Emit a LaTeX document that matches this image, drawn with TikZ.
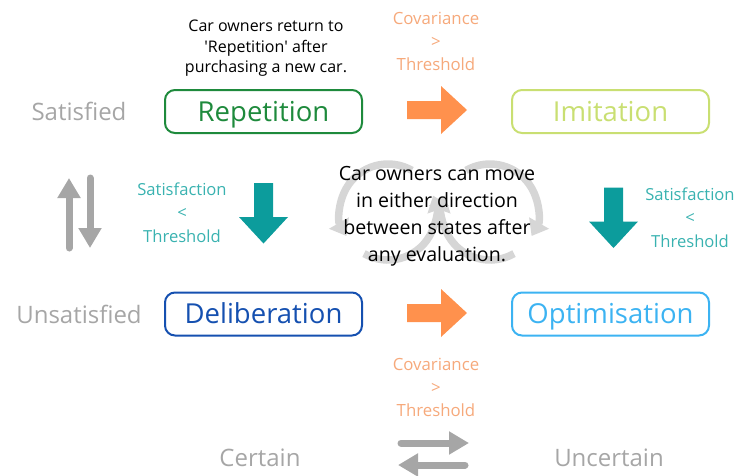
\documentclass[tikz,border=0pt]{standalone}
\usepackage{fontspec}
\setmainfont{Open Sans}
\usetikzlibrary{arrows.meta}

\definecolor{repgreen}{HTML}{1E8A3C}
\definecolor{imigreen}{HTML}{C9DF72}
\definecolor{delblue}{HTML}{1550B0}
\definecolor{optblue}{HTML}{3CB3F2}
\definecolor{orangefill}{HTML}{FF914D}
\definecolor{orangetext}{HTML}{F6A97B}
\definecolor{tealfill}{HTML}{0C9C9C}
\definecolor{tealtext}{HTML}{39B2B0}
\definecolor{greytone}{HTML}{A6A6A6}
\definecolor{cyclegrey}{HTML}{D6D6D6}

\tikzset{
  statebox/.style={draw, line width=2pt, rounded corners=10pt, minimum width=197pt,
    minimum height=43pt, inner sep=0pt, text height=19.6pt, text depth=0pt,
    font=\fontsize{27.5}{32}\selectfont},
  sidelabel/.style={text=greytone, text height=17pt, text depth=0pt,
    font=\fontsize{24}{28}\selectfont},
  covlabel/.style={text=orangetext, align=center, font=\fontsize{16.8}{23}\selectfont},
  satlabel/.style={text=tealtext, align=center, font=\fontsize{16.6}{23.5}\selectfont},
  notelabel/.style={align=center, font=\fontsize{16}{20.5}\selectfont},
  centrelabel/.style={align=center, font=\fontsize{19.6}{27}\selectfont},
  greyarrow/.style={draw=greytone, line width=7pt, line cap=round,
    -{Triangle[width=22pt,length=20pt]}},
  cyclearrow/.style={draw=cyclegrey, line width=7.5pt,
    -{Triangle[width=22pt,length=15pt]}},
  pics/rightblock/.style={code={
    \fill (-30,-9) -- (4,-9) -- (4,-24) -- (30,0) -- (4,24) -- (4,9) -- (-30,9) -- cycle;}},
  pics/downblock/.style={code={
    \fill (-9.5,-30) -- (-9.5,4) -- (-24.5,4) -- (0,30.5) -- (24.5,4) -- (9.5,4) -- (9.5,-30) -- cycle;}},
}

\begin{document}
\begin{tikzpicture}[x=1pt, y=-1pt]
\useasboundingbox (0,0) rectangle (738,475);

% two circular "either direction" arrows behind the central note
% (y grows downwards, so an angle of -a points a degrees above the x axis)
\coordinate (cl) at (388,212);
\coordinate (cr) at (490,212);
\draw[cyclearrow] (cl) ++(-60:48) arc[start angle=-60, end angle=-210, radius=48];
\draw[cyclearrow] (cl) ++(-240:48) arc[start angle=-240, end angle=-380, radius=48];
\draw[cyclearrow] (cr) ++(-120:48) arc[start angle=-120, end angle=30, radius=48];
\draw[cyclearrow] (cr) ++(60:48) arc[start angle=60, end angle=200, radius=48];

% states
\node[statebox, draw=repgreen, text=repgreen] (rep) at (263.5,111.5) {Repetition};
\node[statebox, draw=imigreen, text=imigreen] (imi) at (610.5,111.5) {Imitation};
\node[statebox, draw=delblue, text=delblue] (del) at (263.5,314) {Deliberation};
\node[statebox, draw=optblue, text=optblue] (opt) at (610.5,314) {Optimisation};

% axis labels
\node[sidelabel] (sat) at (79,112) {Satisfied};
\node[sidelabel] (unsat) at (79,315) {Unsatisfied};
\node[sidelabel] (cert) at (260,458) {Certain};
\node[sidelabel] (uncert) at (609,458) {Uncertain};

% notes
\node[notelabel] (note) at (266,48.5) {Car owners return to\\\textquotesingle Repetition\textquotesingle{} after\\purchasing a new car.};
\node[centrelabel] (centre) at (437,216) {Car owners can move\\in either direction\\between states after\\any evaluation.};

% transition conditions
\node[covlabel] (covtop) at (436,41) {Covariance\\>\\Threshold};
\node[covlabel] (covbot) at (436,387.5) {Covariance\\>\\Threshold};
\node[satlabel] (satl) at (182,212.5) {Satisfaction\\<\\Threshold};
\node[satlabel] (satr) at (690,217.5) {Satisfaction\\<\\Threshold};

% transition arrows
\pic[fill=orangefill] (ortop) at (437,110) {rightblock};
\pic[fill=orangefill] (orbot) at (437,313) {rightblock};
\pic[fill=tealfill] (tlft) at (263.5,213) {downblock};
\pic[fill=tealfill] (trgt) at (613.5,217.5) {downblock};

% satisfied / unsatisfied axis arrows
\coordinate (upa) at (69,248);
\coordinate (upb) at (69,178);
\coordinate (dna) at (90,178);
\coordinate (dnb) at (90,248);
\draw[greyarrow] (upa) -- (upb);
\draw[greyarrow] (dna) -- (dnb);

% certain / uncertain axis arrows
\coordinate (ra) at (401,443);
\coordinate (rb) at (469,443);
\coordinate (la) at (465,465);
\coordinate (lb) at (398,465);
\draw[greyarrow] (ra) -- (rb);
\draw[greyarrow] (la) -- (lb);
\end{tikzpicture}
\end{document}
